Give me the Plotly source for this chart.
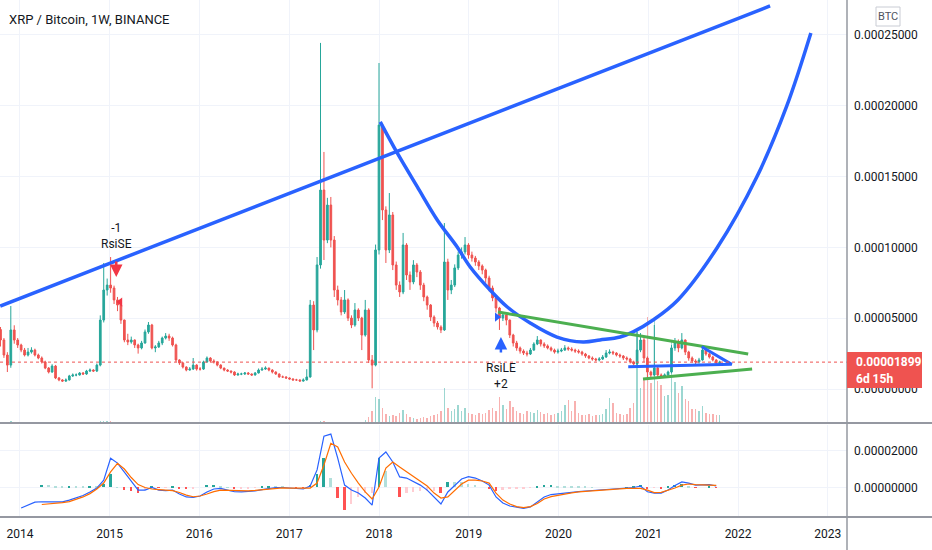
import pandas as pd
import plotly.graph_objects as go

# XRP/BTC candles, 2-week bars, prices in units of 1e-5 BTC
first_bar = '2013-10-14'
close = [3.46, 2.40, 1.69, 4.17, 3.46, 3.11, 2.75, 2.40, 2.61, 2.75,
         2.40, 2.19, 1.91, 1.48, 1.20, 1.62, 0.78, 0.64, 0.56, 0.64,
         0.92, 0.99, 0.99, 1.13, 1.06, 1.27, 1.34, 1.27, 1.69, 4.87,
         6.99, 7.34, 7.13, 6.29, 5.93, 4.87, 3.46, 3.32, 3.46, 3.11,
         2.90, 3.25, 4.03, 4.52, 2.90, 2.97, 3.25, 3.60, 3.74, 3.60,
         3.11, 2.05, 1.84, 1.55, 1.34, 1.41, 1.69, 1.41, 1.41, 1.91,
         2.19, 1.98, 1.91, 1.69, 1.48, 1.34, 1.27, 1.20, 0.99, 1.06,
         1.06, 1.13, 1.06, 0.99, 1.13, 1.34, 1.41, 1.48, 1.34, 1.20,
         1.06, 0.85, 0.85, 0.78, 0.71, 0.64, 0.64, 0.56, 0.64, 0.85,
         5.93, 4.17, 8.76, 14.05, 10.52, 12.99, 10.52, 6.99, 6.29, 5.44,
         6.29, 5.01, 4.52, 5.58, 5.01, 3.81, 5.58, 2.05, 1.69, 9.82,
         18.64, 12.64, 9.82, 12.29, 8.76, 7.34, 6.85, 10.17, 8.05, 7.56,
         8.76, 8.26, 7.34, 6.50, 5.93, 5.08, 4.66, 4.38, 4.17, 8.97,
         6.99, 7.34, 8.55, 9.46, 9.68, 10.17, 9.46, 9.25, 8.97, 8.69,
         8.40, 7.84, 7.13, 6.43, 5.72, 5.01, 5.23, 4.87, 3.81, 3.25,
         2.90, 2.68, 2.54, 2.47, 2.75, 3.18, 3.46, 3.18, 3.04, 2.90,
         2.75, 2.61, 2.68, 2.75, 2.90, 2.82, 2.75, 2.68, 2.61, 2.47,
         2.33, 2.19, 2.12, 2.05, 2.12, 2.26, 2.54, 2.61, 2.54, 2.40,
         2.33, 2.19, 2.12, 1.91, 1.77, 2.75, 3.46, 2.19, 1.20, 0.99,
         1.48, 0.99, 0.92, 0.99, 1.20, 2.90, 3.32, 2.90, 3.46, 2.61,
         2.19, 1.98, 1.91, 2.05, 2.75, 2.47, 2.26, 2.05, 1.84, 1.899]
high = [4.38, 3.6, 2.6, 5.86, 4.5, 3.6, 3.2, 2.9, 2.9, 2.95,
        2.85, 2.5, 2.3, 2.0, 1.55, 1.75, 1.7, 0.85, 0.7, 0.75,
        1.0, 1.1, 1.1, 1.2, 1.2, 1.35, 1.45, 1.4, 1.8, 5.2,
        8.9, 7.8, 9.32, 7.3, 6.5, 6.0, 4.9, 3.9, 3.7, 3.5,
        3.2, 3.4, 4.2, 4.73, 4.6, 3.1, 3.4, 3.7, 3.95, 3.9,
        3.7, 3.2, 2.1, 1.9, 1.6, 1.55, 2.19, 1.75, 1.55, 2.0,
        2.3, 2.25, 2.1, 1.95, 1.75, 1.5, 1.4, 1.3, 1.25, 1.15,
        1.15, 1.2, 1.2, 1.1, 1.2, 1.45, 1.55, 1.6, 1.5, 1.4,
        1.25, 1.1, 0.95, 0.9, 0.82, 0.75, 0.72, 0.68, 0.75, 1.4,
        6.29, 6.2, 9.32, 24.44, 16.74, 13.5, 13.56, 10.8, 7.3, 6.5,
        6.99, 6.4, 5.2, 6.07, 5.7, 5.1, 6.29, 5.7, 2.4, 10.2,
        23.02, 18.79, 12.9, 13.84, 12.5, 9.0, 7.6, 11.02, 10.3, 8.3,
        9.1, 8.9, 8.4, 7.5, 6.6, 6.0, 5.2, 4.8, 4.5, 11.72,
        9.2, 7.7, 8.8, 9.7, 10.0, 10.73, 10.3, 9.7, 9.4, 9.1,
        8.8, 8.5, 8.0, 7.3, 6.6, 5.8, 5.44, 5.3, 4.9, 3.9,
        3.4, 3.0, 2.8, 2.7, 2.9, 3.3, 3.74, 3.5, 3.3, 3.15,
        3.0, 2.85, 2.85, 2.9, 3.1, 3.0, 2.95, 2.85, 2.8, 2.7,
        2.55, 2.4, 2.3, 2.2, 2.25, 2.4, 2.75, 2.8, 2.7, 2.6,
        2.5, 2.4, 2.3, 2.2, 2.0, 4.03, 3.95, 3.6, 2.3, 1.3,
        4.52, 1.6, 1.1, 1.1, 1.3, 3.1, 3.6, 3.5, 3.95, 3.5,
        2.7, 2.3, 2.1, 2.2, 2.97, 2.85, 2.55, 2.35, 2.1, 2.0]
low = [3.0, 2.2, 1.2, 1.5, 3.2, 2.9, 2.6, 2.3, 2.3, 2.5,
       2.3, 2.1, 1.8, 1.4, 1.1, 1.15, 0.7, 0.55, 0.5, 0.5,
       0.6, 0.85, 0.9, 0.95, 1.0, 1.0, 1.2, 1.2, 1.2, 1.6,
       4.7, 6.6, 6.8, 6.0, 5.5, 4.6, 3.3, 3.1, 3.2, 2.9,
       2.5, 2.8, 3.2, 3.9, 2.8, 2.6, 2.9, 3.1, 3.5, 3.4,
       3.0, 1.9, 1.7, 1.45, 1.25, 1.3, 1.35, 1.3, 1.3, 1.35,
       1.85, 1.9, 1.8, 1.6, 1.4, 1.25, 1.2, 1.1, 0.92, 0.95,
       0.98, 1.0, 1.0, 0.92, 0.95, 1.1, 1.3, 1.35, 1.25, 1.1,
       1.0, 0.8, 0.78, 0.72, 0.66, 0.6, 0.58, 0.52, 0.52, 0.6,
       0.8, 2.75, 4.0, 8.5, 9.11, 10.3, 10.0, 6.5, 5.9, 5.2,
       5.3, 4.8, 4.3, 4.4, 4.8, 2.75, 3.7, 1.84, 0.05, 1.6,
       9.5, 11.93, 8.9, 9.6, 8.4, 7.0, 6.5, 6.7, 7.7, 7.0,
       7.4, 7.9, 7.0, 6.2, 5.6, 4.8, 4.4, 4.2, 3.95, 4.1,
       6.29, 6.7, 7.2, 8.4, 9.2, 9.5, 9.2, 9.0, 8.7, 8.4,
       8.1, 7.5, 6.9, 6.2, 5.4, 4.17, 4.8, 4.5, 3.6, 3.0,
       2.7, 2.5, 2.4, 2.3, 2.4, 2.7, 3.1, 3.0, 2.9, 2.8,
       2.65, 2.5, 2.5, 2.6, 2.7, 2.7, 2.65, 2.55, 2.5, 2.35,
       2.2, 2.1, 2.0, 1.95, 1.95, 2.05, 2.2, 2.45, 2.4, 2.3,
       2.2, 2.05, 2.0, 1.8, 1.65, 1.7, 2.6, 1.9, 0.78, 0.78,
       0.9, 0.85, 0.8, 0.85, 0.9, 1.1, 2.7, 2.6, 2.8, 2.4,
       2.0, 1.85, 1.75, 1.8, 2.0, 2.35, 2.15, 1.95, 1.75, 1.8]
first_open = 4.2

# volume, millions of XRP
volume = [10, 10, 10, 20, 10, 10, 10, 10, 10, 10,
          10, 10, 10, 10, 10, 10, 10, 10, 10, 10,
          10, 10, 10, 10, 10, 10, 10, 10, 10, 20,
          20, 20, 20, 10, 10, 10, 10, 10, 10, 10,
          10, 10, 10, 10, 10, 10, 10, 10, 10, 10,
          10, 10, 10, 10, 10, 10, 10, 10, 10, 10,
          10, 10, 10, 10, 10, 10, 10, 10, 10, 10,
          10, 10, 10, 10, 10, 10, 10, 10, 10, 10,
          10, 10, 10, 10, 10, 10, 10, 10, 10, 10,
          10, 10, 10, 20, 20, 10, 10, 10, 10, 10,
          10, 10, 10, 10, 10, 15, 30, 60, 120, 260,
          240, 150, 90, 70, 80, 70, 100, 130, 90, 60,
          50, 40, 50, 60, 50, 70, 80, 90, 120, 350,
          150, 120, 140, 180, 120, 150, 100, 90, 80, 100,
          90, 100, 130, 150, 120, 260, 180, 140, 220, 160,
          120, 100, 90, 120, 110, 100, 130, 110, 90, 100,
          80, 90, 100, 120, 180, 230, 120, 220, 100, 80,
          80, 90, 70, 80, 80, 90, 140, 250, 200, 100,
          90, 80, 90, 150, 200, 920, 350, 450, 1060, 400,
          1040, 420, 380, 270, 280, 810, 410, 300, 370, 240,
          220, 140, 140, 120, 170, 100, 90, 90, 80, 80]

# MACD (12, 26, 9) on every second bar starting at bar 6, units of 1e-6 BTC
macd_start = 6
macd_line = [-11.2, -9.6, -8.0, -7.8, -7.9, -7.9, -7.9, -6.9, -5.8, -4.4,
             -2.5, -0.4, 3.9, 15.7, 13.1, 8.3, 3.4, -1.5, -1.5, -0.1,
             -1.5, -1.8, -1.5, -3.6, -5.2, -5.5, -4.7, -2.5, -0.9, -0.6,
             -1.5, -2.4, -2.5, -2.4, -2.0, -1.2, -0.5, -0.1, -0.1, -0.4,
             -0.6, -0.9, 0.7, 9.4, 27.7, 28.8, 15.8, 1.2, -1.5, -3.1,
             -5.8, -9.6, 15.8, 19.1, 13.7, 5.6, 5.0, 2.9, 1.2, -1.5,
             -5.2, -9.0, -2.5, 1.2, 4.5, 5.8, 5.0, 3.4, 1.2, -5.2,
             -8.5, -10.1, -10.9, -11.4, -10.6, -7.9, -5.2, -3.9, -3.4, -3.0,
             -2.5, -2.3, -2.0, -1.7, -1.5, -1.2, -0.9, -0.8, -0.5, -0.1,
             0.7, -2.4, -3.1, -3.1, -1.5, 1.0, 2.9, 2.3, 1.2, 1.2,
             1.5, 0.7]
signal_line = [None, None, None, -9.3, -9.0, -8.8, -8.3, -7.7, -6.6, -5.2,
               -3.4, -0.9, 2.3, 8.3, 13.0, 9.9, 5.3, 1.5, -0.1, -0.9,
               -1.2, -1.5, -1.8, -2.8, -4.2, -5.1, -4.7, -3.6, -2.3, -1.5,
               -1.6, -1.8, -2.0, -1.9, -1.7, -1.4, -0.9, -0.5, -0.3, -0.4,
               -0.5, -0.6, -0.4, 2.3, 12.1, 23.8, 21.8, 13.7, 7.6, 2.3,
               -2.5, -6.3, 0.2, 10.4, 13.7, 11.0, 8.3, 5.6, 3.4, 0.7,
               -3.1, -5.8, -5.2, -1.5, 1.8, 3.9, 3.9, 3.4, 2.3, -3.1,
               -6.9, -9.0, -10.4, -11.0, -10.4, -8.8, -6.3, -5.0, -4.2, -3.5,
               -3.0, -2.5, -2.2, -1.8, -1.5, -1.2, -0.9, -0.8, -0.6, -0.5,
               -0.6, -1.5, -2.9, -2.7, -1.7, -0.4, 1.2, 1.8, 1.5, 1.2,
               1.2, 1.0]

# hand drawn lines (price in 1e-5 BTC)
trend_dates = ['2013-10-13', '2022-05-11']
trend_prices = [5.86, 27.05]
cup_dates = ['2018-01-06', '2018-03-16', '2018-06-06', '2018-08-26', '2018-11-15',
             '2019-01-07', '2019-03-29', '2019-06-07', '2019-09-08', '2019-12-26',
             '2020-04-10', '2020-06-18', '2020-09-08', '2020-10-31', '2021-01-20',
             '2021-05-01', '2021-10-07', '2022-03-18', '2022-07-18', '2022-10-24']
cup_prices = [18.86, 16.67, 14.27, 11.94, 10.03, 8.62, 6.99, 5.79, 4.66, 3.67,
              3.32, 3.46, 3.67, 4.03, 4.87, 6.29, 9.96, 14.97, 19.99, 25.14]
green_top_dates = ['2019-04-30', '2022-02-11']
green_top_prices = [5.44, 2.47]
green_bottom_dates = ['2020-12-10', '2022-02-27']
green_bottom_prices = [0.71, 1.41]
wedge_dates = ['2020-10-11', '2021-12-06', '2021-08-06']
wedge_prices = [1.57, 1.74, 2.99]

# strategy signals
short_date, short_price, short_mark = '2015-01-28', 7.91, ('2015-02-13', 6.14)
long_date, long_price, long_mark = '2019-05-12', 3.67, ('2019-04-26', 5.08)
last_price = 1.899

UP, DOWN = '#26a69a', '#ef5350'
BLUE, GREEN = '#2962ff', '#4caf50'
GRID = '#f0f3fa'
TXT = '#131722'
E5 = 1e-5

dates = pd.date_range(first_bar, periods=len(close), freq='14D')
opens = [first_open] + close[:-1]
o = [v * E5 for v in opens]
h = [v * E5 for v in high]
l = [v * E5 for v in low]
c = [v * E5 for v in close]
vol_colors = ['rgba(38,166,154,0.45)' if cc >= oo else 'rgba(239,83,80,0.45)'
              for oo, cc in zip(opens, close)]

macd_dates = dates[macd_start::2][:len(macd_line)]
hist_x, hist_y, hist_c = [], [], []
prev = None
for d, m, s in zip(macd_dates, macd_line, signal_line):
    if s is None:
        continue
    hv = m - s
    if hv >= 0:
        col = '#26a69a' if prev is None or hv > prev else '#b2dfdb'
    else:
        col = '#ff5252' if prev is None or hv < prev else '#ffcdd2'
    hist_x.append(d)
    hist_y.append(hv * 1e-6)
    hist_c.append(col)
    prev = hv

fig = go.Figure()

# volume on the base axis so it sits behind the candles
fig.add_trace(go.Bar(x=dates, y=volume, marker_color=vol_colors, marker_line_width=0,
                     width=6 * 86400000, xaxis='x', yaxis='y'))

fig.add_trace(go.Candlestick(x=dates, open=o, high=h, low=l, close=c,
                             increasing=dict(line=dict(color=UP, width=1), fillcolor=UP),
                             decreasing=dict(line=dict(color=DOWN, width=1), fillcolor=DOWN),
                             whiskerwidth=0, xaxis='x', yaxis='y2'))

def draw(xs, ys, color, shape='linear', width=3.5):
    fig.add_trace(go.Scatter(x=xs, y=[v * E5 for v in ys], mode='lines',
                             line=dict(color=color, width=width, shape=shape),
                             xaxis='x', yaxis='y2'))

draw(trend_dates, trend_prices, BLUE)
draw(cup_dates, cup_prices, BLUE, shape='spline')
draw(green_top_dates, green_top_prices, GREEN, width=3)
draw(green_bottom_dates, green_bottom_prices, GREEN, width=3)
draw(wedge_dates, wedge_prices, BLUE, width=3)

fig.add_trace(go.Scatter(x=[short_mark[0]], y=[short_mark[1] * E5], mode='markers',
                         marker=dict(symbol='triangle-left', size=8, color='#f23645'),
                         xaxis='x', yaxis='y2'))
fig.add_trace(go.Scatter(x=[long_mark[0]], y=[long_mark[1] * E5], mode='markers',
                         marker=dict(symbol='triangle-right', size=8, color=BLUE),
                         xaxis='x', yaxis='y2'))

# MACD pane
fig.add_trace(go.Bar(x=hist_x, y=hist_y, marker_color=hist_c, marker_line_width=0,
                     width=8 * 86400000, xaxis='x', yaxis='y3'))
fig.add_trace(go.Scatter(x=macd_dates, y=[v * 1e-6 for v in macd_line], mode='lines',
                         line=dict(color=BLUE, width=1.2), xaxis='x', yaxis='y3'))
fig.add_trace(go.Scatter(x=macd_dates, y=[None if v is None else v * 1e-6 for v in signal_line],
                         mode='lines', line=dict(color='#ff6d00', width=1.2),
                         xaxis='x', yaxis='y3'))

XR = 847 / 932
main_dom = [127 / 550, 1]
macd_dom = [33 / 550, 125 / 550]

fig.update_layout(
    width=932, height=550,
    margin=dict(l=0, r=0, t=0, b=0),
    paper_bgcolor='white', plot_bgcolor='white',
    showlegend=False, hovermode=False, bargap=0,
    font=dict(family='Roboto', size=12, color=TXT),
    xaxis=dict(domain=[0, XR], anchor='y3', type='date',
               range=['2013-10-12', '2023-03-20'],
               tick0='2014-01-01', dtick='M12', tickformat='%Y',
               showgrid=True, gridcolor=GRID, zeroline=False, showline=False,
               ticks='', ticklabelstandoff=8, rangeslider=dict(visible=False)),
    yaxis=dict(domain=main_dom, range=[0, 4230], visible=False, showgrid=False, fixedrange=True),
    yaxis2=dict(overlaying='y', side='right', anchor='x',
                range=[-2.40 * E5, 27.47 * E5],
                tickvals=[0, 5 * E5, 10 * E5, 15 * E5, 20 * E5, 25 * E5],
                tickformat='.8f', showgrid=True, gridcolor=GRID, zeroline=False,
                showline=False, ticks='', ticklabelstandoff=6),
    yaxis3=dict(domain=macd_dom, side='right', anchor='x',
                range=[-16.05e-6, 33.7e-6], tickvals=[0, 2e-5],
                tickformat='.8f', showgrid=True, gridcolor=GRID, zeroline=False,
                showline=False, ticks='', ticklabelstandoff=6),
)

shapes = [
    dict(type='line', xref='paper', yref='y2', x0=0, x1=XR,
         y0=last_price * E5, y1=last_price * E5,
         line=dict(color='#ef5350', width=1, dash='dot')),
    dict(type='line', xref='paper', yref='paper', x0=0, x1=1, y0=127 / 550, y1=127 / 550,
         line=dict(color='#9598a1', width=2)),
    dict(type='line', xref='paper', yref='paper', x0=0, x1=1, y0=33 / 550, y1=33 / 550,
         line=dict(color='#9598a1', width=2)),
    dict(type='line', xref='paper', yref='paper', x0=XR, x1=XR, y0=0, y1=1,
         line=dict(color='#9598a1', width=1.5)),
    dict(type='rect', xref='paper', yref='paper', x0=XR, x1=922 / 932,
         y0=(550 - 388) / 550, y1=(550 - 352) / 550,
         fillcolor='#ef5350', line=dict(width=0), layer='above'),
    dict(type='rect', xref='paper', yref='paper', x0=876 / 932, x1=900 / 932,
         y0=(550 - 26) / 550, y1=(550 - 7) / 550,
         fillcolor='white', line=dict(color='#c9ccd4', width=1), layer='above'),
]

annotations = [
    dict(text='XRP / Bitcoin, 1W, BINANCE', xref='paper', yref='paper',
         x=7 / 932, y=(550 - 19) / 550, xanchor='left', yanchor='middle',
         showarrow=False, font=dict(size=13, color=TXT)),
    dict(text='BTC', xref='paper', yref='paper', x=888 / 932, y=(550 - 16.5) / 550,
         xanchor='center', yanchor='middle', showarrow=False,
         font=dict(size=11, color='#50535e')),
    dict(text='<b>0.00001899</b>', xref='paper', yref='paper', x=854 / 932,
         y=(550 - 362) / 550, xanchor='left', yanchor='middle', showarrow=False,
         font=dict(size=12, color='white')),
    dict(text='<b>6d 15h</b>', xref='paper', yref='paper', x=854 / 932,
         y=(550 - 379) / 550, xanchor='left', yanchor='middle', showarrow=False,
         font=dict(size=12, color='white')),
    dict(text='-1<br>RsiSE', xref='x', yref='y2', x=short_date, y=10.84 * E5,
         showarrow=False, font=dict(size=12, color=TXT)),
    dict(text='', xref='x', yref='y2', x=short_date, y=short_price * E5,
         ax=0, ay=-17, showarrow=True, arrowhead=2, arrowsize=1, arrowwidth=2.5,
         arrowcolor='#f23645'),
    dict(text='RsiLE<br>+2', xref='x', yref='y2', x=long_date, y=0.95 * E5,
         showarrow=False, font=dict(size=12, color=TXT)),
    dict(text='', xref='x', yref='y2', x=long_date, y=long_price * E5,
         ax=0, ay=17, showarrow=True, arrowhead=2, arrowsize=1, arrowwidth=2.5,
         arrowcolor=BLUE),
]

fig.update_layout(shapes=shapes, annotations=annotations)
# page body has a default margin; remove it so the figure sits at the window corner
fig.write_html("out.html", config={'displayModeBar': False},
               post_script="document.body.style.margin='0px';")
